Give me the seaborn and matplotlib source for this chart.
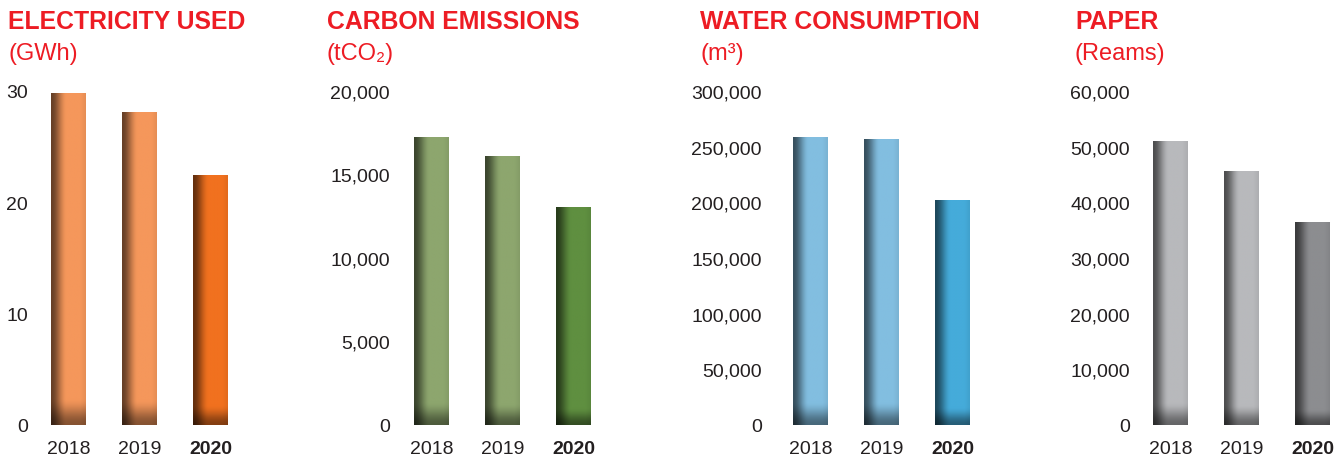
import numpy as np
import pandas as pd
import seaborn as sns
import matplotlib.pyplot as plt
from matplotlib.colors import to_rgb
from matplotlib.ticker import FuncFormatter

years = ['2018', '2019', '2020']
electricity = [29.8, 28.1, 22.4]
carbon = [17200, 16100, 13000]
water = [258500, 256500, 201500]
paper = [51000, 45600, 36400]

titles = ['ELECTRICITY USED', 'CARBON EMISSIONS', 'WATER CONSUMPTION', 'PAPER']
units = ['(GWh)', '(tCO\u2082)', '(m\u00b3)', '(Reams)']
yticks = [[0, 10, 20, 30],
          [0, 5000, 10000, 15000, 20000],
          [0, 50000, 100000, 150000, 200000, 250000, 300000],
          [0, 10000, 20000, 30000, 40000, 50000, 60000]]
colors = [('#F5975B', '#F1711F'),
          ('#8DA66E', '#5F8F40'),
          ('#82BEE0', '#45ABDA'),
          ('#B8B9BC', '#8C8D90')]

sns.set_style('white')
plt.rcParams['font.family'] = ['Liberation Sans', 'DejaVu Sans']

W, H = 1341, 460
fig = plt.figure(figsize=(W / 100, H / 100), dpi=100)

# pixel layout: axes left edge, title x, tick pad (pt)
lefts = [33, 396, 775, 1135]
title_x = [8, 327, 700, 1075]
pads = [3.6, 4.3, 9.4, 3.6]
ax_bottom, ax_top = 426, 92

red = '#ED1C24'
txt = '#231F20'


def shade_bar(ax, patch, col):
    x, w = patch.get_x(), patch.get_width()
    h = patch.get_height()
    nx, ny = 60, 300
    u = np.linspace(0, 1, nx)
    v = np.linspace(0, 1, ny)  # 0 = bottom
    hx = np.clip(u / 0.45, 0, 1)
    hx = hx * hx * (3 - 2 * hx)
    fx = 0.42 + 0.58 * hx
    fx = fx * (1 - 0.06 * np.clip((u - 0.85) / 0.15, 0, 1))
    vy = np.clip(v / 0.08, 0, 1)
    vy = vy * vy * (3 - 2 * vy)
    fy = 0.55 + 0.45 * vy
    f = fy[:, None] * fx[None, :]
    base = np.array(to_rgb(col))
    img = base[None, None, :] * f[:, :, None]
    ax.imshow(img, extent=[x, x + w, 0, h], origin='lower',
              aspect='auto', zorder=3, interpolation='bilinear')


datasets = [electricity, carbon, water, paper]
for i, vals in enumerate(datasets):
    ax = fig.add_axes([lefts[i] / W, (H - ax_bottom) / H,
                       213 / W, (ax_bottom - ax_top) / H])
    df = pd.DataFrame({'year': years, 'value': vals})
    light, dark = colors[i]
    sns.barplot(data=df, x='year', y='value', hue='year',
                palette=[light, light, dark], width=0.49,
                saturation=1, legend=False, ax=ax)
    for p, c in zip(ax.patches, [light, light, dark]):
        shade_bar(ax, p, c)
    ax.set_xlim(-0.5, 2.5)
    ax.set_ylim(0, yticks[i][-1])
    ax.set_yticks(yticks[i])
    ax.yaxis.set_major_formatter(FuncFormatter(lambda v, _: f'{int(v):,}'))
    ax.set_xlabel('')
    ax.set_ylabel('')
    ax.tick_params(axis='y', length=0, pad=pads[i], labelsize=14, labelcolor=txt)
    ax.tick_params(axis='x', length=0, pad=11, labelsize=14, labelcolor=txt)
    ax.get_xticklabels()[2].set_fontweight('bold')
    for s in ax.spines.values():
        s.set_visible(False)
    ax.set_facecolor('none')

    fig.text(title_x[i] / W, 1 - 29 / H, titles[i], color=red,
             fontsize=17.8, fontweight='bold', va='baseline', ha='left')
    fig.text(title_x[i] / W, 1 - 60 / H, units[i], color=red,
             fontsize=17, va='baseline', ha='left')

fig.savefig('out.png', dpi=100)
